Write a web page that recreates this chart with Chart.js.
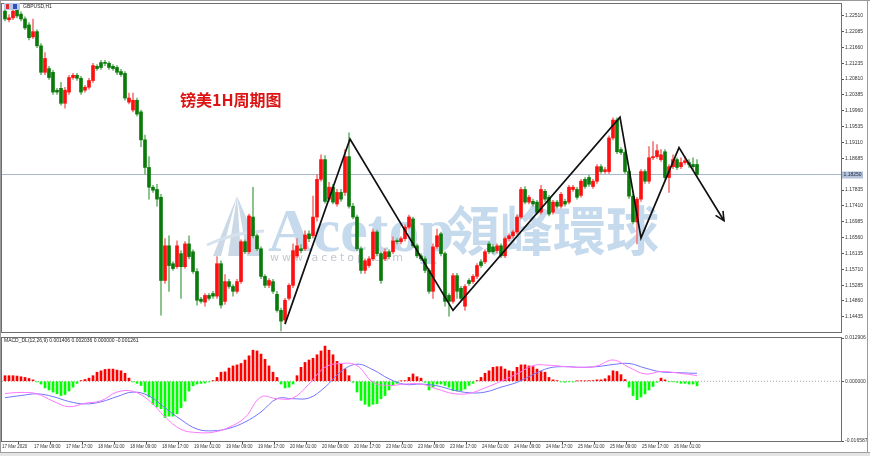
<!doctype html>
<html lang="zh-CN">
<head>
<meta charset="UTF-8" />
<title>GBPUSD,H1</title>
<script src="https://cdn.jsdelivr.net/npm/chart.js@4.4.1/dist/chart.umd.min.js"></script>
<style>
  body { margin: 0; background: #fff; }
  #tela { position: relative; width: 870px; height: 456px; overflow: hidden; background: #fff; }
  canvas { position: absolute; left: 0; }
  #grafPreco { top: 0; }
  #grafMacd { top: 334px; }
  .abas { position: absolute; left: 0; top: 452px; width: 870px; height: 4px; background: #e4e4e4; border-top: 1px solid #a0a0a0; }
</style>
</head>
<body>
<div id="tela">
  <canvas id="grafPreco" width="870" height="336"></canvas>
  <canvas id="grafMacd" width="870" height="118"></canvas>
  <div class="abas"></div>
</div>
<script>
  // Velas GBPUSD H1
  var abertura = [
    1.2263,1.2240,1.2245,1.2269,1.2255,1.2242,1.2226,1.2194,1.2208,1.2170,
    1.2099,1.2109,1.2099,1.2051,1.2056,1.2016,1.2046,1.2085,1.2091,1.2083,
    1.2051,1.2059,1.2077,1.2115,1.2125,1.2125,1.2123,1.2115,1.2112,1.2101,
    1.2096,1.2019,1.1998,1.2024,1.1993,1.1918,1.1844,1.1791,1.1785,1.1764,
    1.1541,1.1634,1.1586,1.1578,1.1613,1.1578,1.1639,1.1618,1.1565,1.1491,
    1.1483,1.1501,1.1506,1.1499,1.1586,1.1485,1.1538,1.1525,1.1512,1.1538,
    1.1645,1.1618,1.1711,1.1661,1.1626,1.1552,1.1528,1.1538,1.1504,1.1461,
    1.1435,1.1493,1.1528,1.1607,1.1626,1.1626,1.1666,1.1661,1.1711,1.1812,
    1.1865,1.1759,1.1791,1.1746,1.1777,1.1777,1.1873,1.1740,1.1711,1.1626,
    1.1568,1.1581,1.1599,1.1671,1.1613,1.1599,1.1618,1.1618,1.1647,1.1645,
    1.1653,1.1684,1.1706,1.1634,1.1607,1.1599,1.1568,1.1512,1.1631,1.1666,
    1.1613,1.1501,1.1485,1.1554,1.1520,1.1472,1.1541,1.1538,1.1552,1.1591,
    1.1591,1.1639,1.1631,1.1621,1.1634,1.1607,1.1653,1.1661,1.1671,1.1711,
    1.1785,1.1751,1.1753,1.1751,1.1724,1.1780,1.1764,1.1724,1.1751,1.1740,
    1.1753,1.1751,1.1785,1.1785,1.1769,1.1812,1.1817,1.1793,1.1807,1.1846,
    1.1833,1.1833,1.1923,1.1971,1.1892,1.1884,1.1833,1.1767,1.1698,1.1759,
    1.1833,1.1807,1.1870,1.1873,1.1865,1.1886,1.1817,1.1846,1.1865,1.1846,
    1.1857,1.1857,1.1852,1.1852
  ];
  var maxima = [
    1.2271,1.2253,1.2271,1.2277,1.2261,1.2248,1.2232,1.2242,1.2213,1.2176,
    1.2152,1.2115,1.2104,1.2056,1.2072,1.2059,1.2091,1.2096,1.2096,1.2088,
    1.2064,1.2083,1.2123,1.2120,1.2131,1.2131,1.2128,1.2120,1.2117,1.2107,
    1.2101,1.2043,1.2043,1.2030,1.1998,1.1931,1.1873,1.1796,1.1799,1.1772,
    1.1653,1.1661,1.1591,1.1647,1.1621,1.1645,1.1661,1.1623,1.1573,1.1496,
    1.1506,1.1506,1.1512,1.1605,1.1594,1.1557,1.1544,1.1530,1.1544,1.1650,
    1.1650,1.1719,1.1791,1.1666,1.1631,1.1557,1.1546,1.1544,1.1512,1.1467,
    1.1493,1.1533,1.1639,1.1653,1.1637,1.1674,1.1674,1.1767,1.1825,1.1878,
    1.1876,1.1804,1.1799,1.1785,1.1785,1.1892,1.1937,1.1748,1.1716,1.1631,
    1.1599,1.1605,1.1679,1.1676,1.1618,1.1626,1.1623,1.1658,1.1653,1.1658,
    1.1690,1.1716,1.1711,1.1639,1.1613,1.1605,1.1573,1.1639,1.1679,1.1671,
    1.1618,1.1506,1.1560,1.1560,1.1525,1.1530,1.1546,1.1557,1.1586,1.1597,
    1.1623,1.1645,1.1637,1.1639,1.1639,1.1658,1.1666,1.1676,1.1716,1.1791,
    1.1793,1.1769,1.1759,1.1756,1.1796,1.1785,1.1769,1.1756,1.1756,1.1777,
    1.1759,1.1796,1.1796,1.1791,1.1812,1.1817,1.1823,1.1812,1.1852,1.1852,
    1.1844,1.1929,1.1977,1.1977,1.1897,1.1889,1.1838,1.1772,1.1764,1.1838,
    1.1838,1.1900,1.1913,1.1905,1.1892,1.1892,1.1852,1.1878,1.1870,1.1870,
    1.1873,1.1865,1.1870,1.1865
  ];
  var minima = [
    1.2237,1.2234,1.2240,1.2245,1.2237,1.2213,1.2186,1.2189,1.2165,1.2093,
    1.2093,1.2080,1.2040,1.2040,1.2011,1.2003,1.2040,1.2080,1.2077,1.2040,
    1.2046,1.2054,1.2072,1.2104,1.2107,1.2117,1.2107,1.2104,1.2093,1.2088,
    1.2024,1.2014,1.1993,1.1982,1.1900,1.1825,1.1759,1.1777,1.1740,1.1448,
    1.1533,1.1512,1.1568,1.1573,1.1493,1.1573,1.1599,1.1560,1.1475,1.1480,
    1.1472,1.1488,1.1493,1.1493,1.1467,1.1477,1.1520,1.1499,1.1506,1.1533,
    1.1613,1.1613,1.1655,1.1621,1.1546,1.1522,1.1522,1.1506,1.1456,1.1406,
    1.1429,1.1488,1.1522,1.1602,1.1615,1.1621,1.1645,1.1655,1.1700,1.1807,
    1.1748,1.1753,1.1746,1.1740,1.1753,1.1769,1.1735,1.1706,1.1621,1.1560,
    1.1560,1.1576,1.1594,1.1607,1.1533,1.1594,1.1599,1.1613,1.1639,1.1639,
    1.1647,1.1679,1.1629,1.1602,1.1594,1.1562,1.1506,1.1493,1.1626,1.1607,
    1.1472,1.1445,1.1480,1.1493,1.1488,1.1461,1.1528,1.1533,1.1546,1.1576,
    1.1586,1.1613,1.1613,1.1615,1.1602,1.1602,1.1647,1.1655,1.1666,1.1706,
    1.1746,1.1746,1.1740,1.1719,1.1719,1.1753,1.1714,1.1719,1.1735,1.1735,
    1.1740,1.1746,1.1780,1.1759,1.1764,1.1788,1.1793,1.1788,1.1801,1.1828,
    1.1828,1.1828,1.1918,1.1881,1.1878,1.1828,1.1761,1.1692,1.1639,1.1753,
    1.1801,1.1801,1.1865,1.1868,1.1860,1.1812,1.1777,1.1841,1.1838,1.1841,
    1.1852,1.1844,1.1838,1.1820
  ];
  var fechamento = [
    1.2242,1.2245,1.2263,1.2250,1.2242,1.2218,1.2192,1.2208,1.2170,1.2099,
    1.2136,1.2085,1.2046,1.2046,1.2016,1.2051,1.2085,1.2091,1.2083,1.2046,
    1.2059,1.2077,1.2117,1.2109,1.2112,1.2123,1.2112,1.2109,1.2099,1.2093,
    1.2030,1.2030,1.2024,1.1987,1.1918,1.1844,1.1791,1.1783,1.1759,1.1541,
    1.1634,1.1581,1.1573,1.1634,1.1578,1.1639,1.1605,1.1565,1.1488,1.1485,
    1.1501,1.1493,1.1499,1.1586,1.1475,1.1538,1.1525,1.1512,1.1538,1.1645,
    1.1618,1.1714,1.1661,1.1626,1.1552,1.1528,1.1541,1.1512,1.1461,1.1432,
    1.1488,1.1528,1.1621,1.1634,1.1621,1.1663,1.1653,1.1711,1.1812,1.1865,
    1.1753,1.1791,1.1751,1.1777,1.1759,1.1873,1.1740,1.1711,1.1626,1.1568,
    1.1594,1.1599,1.1671,1.1613,1.1541,1.1618,1.1605,1.1647,1.1645,1.1653,
    1.1684,1.1711,1.1634,1.1607,1.1599,1.1568,1.1512,1.1631,1.1661,1.1613,
    1.1485,1.1485,1.1554,1.1512,1.1493,1.1525,1.1533,1.1552,1.1581,1.1581,
    1.1618,1.1618,1.1618,1.1634,1.1607,1.1653,1.1661,1.1671,1.1711,1.1785,
    1.1751,1.1764,1.1746,1.1724,1.1785,1.1759,1.1719,1.1751,1.1740,1.1772,
    1.1746,1.1791,1.1791,1.1764,1.1807,1.1793,1.1799,1.1807,1.1846,1.1833,
    1.1838,1.1923,1.1971,1.1886,1.1884,1.1833,1.1767,1.1698,1.1759,1.1833,
    1.1807,1.1870,1.1873,1.1889,1.1878,1.1817,1.1846,1.1865,1.1844,1.1857,
    1.1862,1.1852,1.1846,1.1825
  ];

  // MACD_DL(12,26,9): histograma por barra
  var histograma = [
    0.0016,0.0016,0.0016,0.0015,0.0013,0.0011,0.0008,0.0004,-0.0002,-0.0008,
    -0.0019,-0.0025,-0.0031,-0.0036,-0.0041,-0.0038,-0.0028,-0.0017,-0.0006,0.0002,
    0.0005,0.0009,0.0016,0.0026,0.0030,0.0034,0.0035,0.0035,0.0032,0.0030,
    0.0023,0.0009,-0.0002,-0.0006,-0.0012,-0.0031,-0.0045,-0.0066,-0.0074,-0.0079,
    -0.0104,-0.0100,-0.0100,-0.0093,-0.0076,-0.0057,-0.0028,-0.0013,-0.0008,-0.0006,
    -0.0005,-0.0002,0.0002,0.0011,0.0026,0.0027,0.0038,0.0044,0.0047,0.0051,
    0.0061,0.0073,0.0089,0.0087,0.0078,0.0063,0.0044,0.0026,0.0011,-0.0008,
    -0.0019,-0.0017,-0.0008,0.0016,0.0040,0.0054,0.0061,0.0066,0.0076,0.0087,
    0.0101,0.0089,0.0076,0.0057,0.0049,0.0035,0.0016,-0.0003,-0.0031,-0.0055,
    -0.0066,-0.0072,-0.0066,-0.0064,-0.0050,-0.0041,-0.0025,-0.0012,-0.0006,0.0001,
    0.0002,0.0011,0.0021,0.0013,0.0009,-0.0003,-0.0025,-0.0017,-0.0008,-0.0008,
    -0.0012,-0.0017,-0.0027,-0.0028,-0.0027,-0.0022,-0.0012,-0.0006,0.0002,0.0011,
    0.0023,0.0030,0.0040,0.0042,0.0042,0.0035,0.0030,0.0028,0.0040,0.0047,
    0.0047,0.0044,0.0042,0.0035,0.0028,0.0026,0.0011,0.0004,0.0002,-0.0002,
    -0.0003,-0.0001,-0.0002,0.0001,0.0001,0.0001,0.0002,0.0002,0.0004,0.0004,
    0.0007,0.0016,0.0030,0.0028,0.0019,0.0005,-0.0017,-0.0041,-0.0053,-0.0045,
    -0.0036,-0.0025,-0.0015,-0.0003,0.0009,0.0004,-0.0001,-0.0001,-0.0003,-0.0006,
    -0.0006,-0.0008,-0.0008,-0.0013
  ];
  // linhas do MACD lidas a cada 4 barras
  var barrasLinha = [0,4,8,12,16,20,24,28,32,36,40,44,48,52,56,60,64,68,72,76,80,84,88,92,96,100,
    104,108,112,116,120,124,128,132,136,140,144,148,152,156,160,164,168,172,173];
  var linhaDif = [-0.0035,-0.0032,-0.0036,-0.0057,-0.0073,-0.0063,-0.0056,-0.0031,-0.0029,-0.0055,
    -0.0102,-0.0138,-0.0147,-0.0146,-0.0132,-0.0104,-0.0045,-0.0050,-0.0048,-0.0008,
    0.0040,0.0051,0.0045,-0.0003,-0.0012,-0.0008,-0.0008,-0.0022,-0.0035,-0.0035,
    -0.0019,0.0000,0.0021,0.0045,0.0046,0.0042,0.0040,0.0044,0.0061,0.0040,
    0.0021,0.0028,0.0024,0.0018,0.0016];
  var linhaDea = [-0.0047,-0.0041,-0.0036,-0.0044,-0.0058,-0.0065,-0.0059,-0.0044,-0.0031,-0.0042,
    -0.0076,-0.0110,-0.0137,-0.0142,-0.0135,-0.0117,-0.0088,-0.0050,-0.0050,-0.0048,
    -0.0017,0.0028,0.0049,0.0033,0.0007,-0.0009,-0.0008,-0.0013,-0.0025,-0.0033,
    -0.0031,-0.0017,-0.0003,0.0019,0.0038,0.0042,0.0040,0.0042,0.0048,0.0051,
    0.0038,0.0027,0.0025,0.0023,0.0023];

  // linha desenhada à mão (barra, preço)
  var zigBarra = [70, 86.25, 112, 153.75, 159, 168.5, 179.75];
  var zigPreco = [1.1424, 1.1920, 1.1461, 1.1979, 1.1655, 1.1897, 1.1701];

  var rotulosTempo = ['17 Mar 2020','17 Mar 09:00','17 Mar 17:00','18 Mar 01:00','18 Mar 09:00','18 Mar 17:00',
    '19 Mar 01:00','19 Mar 09:00','19 Mar 17:00','20 Mar 01:00','20 Mar 09:00','20 Mar 17:00',
    '23 Mar 01:00','23 Mar 09:00','23 Mar 17:00','24 Mar 01:00','24 Mar 09:00','24 Mar 17:00',
    '25 Mar 01:00','25 Mar 09:00','25 Mar 17:00','26 Mar 01:00'];
  var rotulosPreco = [1.22510,1.22085,1.21660,1.21235,1.20810,1.20385,1.19960,1.19535,1.19110,1.18685,
    1.18260,1.17835,1.17410,1.16985,1.16560,1.16135,1.15710,1.15285,1.14860,1.14435];
  var rotulosMacd = ['-0.016587', '0.000000', '0.012906'];

  var precoMin = 1.14029, precoMax = 1.22821;
  var macdMin = -0.01713, macdMax = 0.01241;
  var xMin = -0.75, xMax = 209;

  Chart.defaults.font.family = '"Liberation Sans", Arial, sans-serif';
  Chart.defaults.animation = false;

  var indices = abertura.map(function (v, i) { return i; });
  var sobe = indices.map(function (i) { return fechamento[i] >= abertura[i]; });
  var ultimo = fechamento[fechamento.length - 1];

  // moldura, marca d'água e textos
  var enfeitesPreco = {
    id: 'enfeitesPreco',
    beforeDatasetsDraw: function (chart) {
      var ctx = chart.ctx;
      ctx.save();
      // logo
      ctx.fillStyle = '#cbd8e6';
      ctx.beginPath();
      ctx.moveTo(237, 196); ctx.lineTo(213, 256); ctx.lineTo(221, 256); ctx.closePath();
      ctx.moveTo(237, 196); ctx.lineTo(228, 256); ctx.lineTo(241, 256); ctx.closePath();
      ctx.moveTo(237, 196); ctx.lineTo(247, 256); ctx.lineTo(263, 256); ctx.closePath();
      ctx.fill();
      ctx.strokeStyle = '#d6e2ee';
      ctx.lineWidth = 3;
      ctx.beginPath();
      ctx.moveTo(207, 245); ctx.quadraticCurveTo(235, 232, 264, 231);
      ctx.stroke();
      ctx.fillStyle = '#c6daed';
      ctx.textBaseline = 'alphabetic';
      ctx.font = 'bold 62px "Liberation Serif", serif';
      ctx.fillText('Acetop', 268, 251);
      ctx.font = 'bold 53px "Noto Sans CJK TC"';
      ctx.fillText('領峰環球', 447, 251);
      ctx.fillStyle = '#c4c8cf';
      ctx.font = '11px "DejaVu Sans"';
      ctx.letterSpacing = '3px';
      ctx.fillText('www.acetop.com', 270, 261);
      ctx.restore();
    },
    afterDatasetsDraw: function (chart) {
      var ctx = chart.ctx;
      // ponta da seta
      var pts = chart.getDatasetMeta(3).data;
      var a = pts[pts.length - 2], b = pts[pts.length - 1];
      var ang = Math.atan2(b.y - a.y, b.x - a.x);
      ctx.save();
      ctx.strokeStyle = '#111';
      ctx.lineWidth = 1.6;
      ctx.beginPath();
      ctx.moveTo(b.x - 10 * Math.cos(ang - 0.45), b.y - 10 * Math.sin(ang - 0.45));
      ctx.lineTo(b.x, b.y);
      ctx.lineTo(b.x - 10 * Math.cos(ang + 0.45), b.y - 10 * Math.sin(ang + 0.45));
      ctx.stroke();
      ctx.restore();
    },
    afterDraw: function (chart) {
      var ctx = chart.ctx, area = chart.chartArea;
      ctx.save();
      ctx.strokeStyle = '#6e6e6e';
      ctx.lineWidth = 1;
      ctx.strokeRect(area.left - 0.5, area.top - 0.5, area.right - area.left + 1, area.bottom - area.top + 1);
      ctx.strokeStyle = '#9a9a9a';
      ctx.beginPath();
      ctx.moveTo(0, 0.5); ctx.lineTo(870, 0.5);
      ctx.moveTo(0.5, 0); ctx.lineTo(0.5, 336);
      ctx.moveTo(867.5, 0); ctx.lineTo(867.5, 336);
      ctx.stroke();
      // ícone e título
      ctx.fillStyle = '#b9c9e6';
      ctx.fillRect(4, 3, 16, 7);
      ctx.fillStyle = '#e03030';
      ctx.fillRect(6, 4, 3, 5);
      ctx.fillStyle = '#3050c0';
      ctx.fillRect(13, 4, 4, 5);
      ctx.fillStyle = '#222';
      ctx.font = '5px "Liberation Sans"';
      ctx.textBaseline = 'middle';
      ctx.fillText('GBPUSD,H1', 23, 7);
      // rótulo do preço atual
      var y = chart.scales.y.getPixelForValue(ultimo);
      ctx.fillStyle = '#b3c2d8';
      ctx.fillRect(842, Math.round(y) - 3.5, 21, 7);
      ctx.fillStyle = '#1e2a44';
      ctx.fillText(ultimo.toFixed(5), 843.5, Math.round(y));
      // título em chinês
      ctx.fillStyle = '#dc1414';
      ctx.font = 'bold 16px "Noto Sans CJK SC"';
      ctx.fillText('镑美1H周期图', 180, 100);
      ctx.restore();
    }
  };

  var grafPreco = new Chart(document.getElementById('grafPreco'), {
    type: 'bar',
    data: {
      datasets: [
        {
          label: 'pavio',
          data: indices.map(function (i) { return { x: i, y: [minima[i], maxima[i]] }; }),
          backgroundColor: indices.map(function (i) { return sobe[i] ? '#f27a7a' : '#74b874'; }),
          barThickness: 1,
          grouped: false,
          order: 3
        },
        {
          label: 'corpo',
          data: indices.map(function (i) { return { x: i, y: [abertura[i], fechamento[i]] }; }),
          backgroundColor: indices.map(function (i) { return sobe[i] ? '#ff1010' : '#0b7a0b'; }),
          barThickness: 3,
          minBarLength: 1,
          grouped: false,
          order: 2
        },
        {
          type: 'line',
          label: 'preço atual',
          data: [{ x: xMin, y: ultimo }, { x: xMax, y: ultimo }],
          borderColor: '#a9b8cc',
          borderWidth: 1,
          pointRadius: 0,
          order: 4
        },
        {
          type: 'line',
          label: 'tendência',
          data: zigBarra.map(function (b, k) { return { x: b, y: zigPreco[k] }; }),
          borderColor: '#111',
          borderWidth: 1.7,
          pointRadius: 0,
          tension: 0,
          order: 0
        }
      ]
    },
    options: {
      responsive: false,
      devicePixelRatio: 1,
      layout: { padding: { left: 2, top: 3, right: 0, bottom: 2 } },
      plugins: { legend: { display: false }, tooltip: { enabled: false } },
      scales: {
        x: { type: 'linear', min: xMin, max: xMax, offset: false, display: false },
        y: {
          position: 'right',
          min: precoMin,
          max: precoMax,
          afterBuildTicks: function (s) { s.ticks = rotulosPreco.map(function (v) { return { value: v }; }); },
          afterFit: function (s) { s.width = 29; },
          ticks: {
            font: { size: 5 },
            color: '#333',
            padding: 1,
            autoSkip: false,
            callback: function (v) { return Number(v).toFixed(5); }
          },
          grid: { drawOnChartArea: false, drawTicks: true, tickLength: 3, color: '#555' },
          border: { color: '#6e6e6e' }
        }
      }
    },
    plugins: [enfeitesPreco]
  });

  var enfeitesMacd = {
    id: 'enfeitesMacd',
    afterDraw: function (chart) {
      var ctx = chart.ctx, area = chart.chartArea;
      ctx.save();
      ctx.strokeStyle = '#6e6e6e';
      ctx.lineWidth = 1;
      ctx.strokeRect(area.left - 0.5, area.top - 0.5, area.right - area.left + 1, area.bottom - area.top + 1);
      ctx.strokeStyle = '#9a9a9a';
      ctx.beginPath();
      ctx.moveTo(0.5, 0); ctx.lineTo(0.5, 118);
      ctx.moveTo(867.5, 0); ctx.lineTo(867.5, 118);
      ctx.stroke();
      ctx.fillStyle = '#222';
      ctx.font = '5px "Liberation Sans"';
      ctx.textBaseline = 'middle';
      ctx.fillText('MACD_DL(12,26,9) 0.001406 0.002036 0.000000 -0.001261', 4, 7);
      ctx.restore();
    }
  };

  var grafMacd = new Chart(document.getElementById('grafMacd'), {
    type: 'bar',
    data: {
      datasets: [
        {
          label: 'histograma',
          data: indices.map(function (i) { return { x: i, y: histograma[i] }; }),
          backgroundColor: histograma.map(function (v) { return v >= 0 ? '#ff0000' : '#00ff00'; }),
          barThickness: 2,
          grouped: false,
          order: 3
        },
        {
          type: 'line',
          label: 'zero',
          data: [{ x: xMin, y: 0 }, { x: xMax, y: 0 }],
          borderColor: '#a0a0a0',
          borderWidth: 1,
          borderDash: [1, 2],
          pointRadius: 0,
          order: 4
        },
        {
          type: 'line',
          label: 'DEA',
          data: barrasLinha.map(function (b, k) { return { x: b, y: linhaDea[k] }; }),
          borderColor: '#7474ff',
          borderWidth: 1,
          pointRadius: 0,
          tension: 0.4,
          order: 1
        },
        {
          type: 'line',
          label: 'DIF',
          data: barrasLinha.map(function (b, k) { return { x: b, y: linhaDif[k] }; }),
          borderColor: '#ff78ff',
          borderWidth: 1,
          pointRadius: 0,
          tension: 0.4,
          order: 0
        }
      ]
    },
    options: {
      responsive: false,
      devicePixelRatio: 1,
      layout: { padding: { left: 2, top: 3, right: 0, bottom: 0 } },
      plugins: { legend: { display: false }, tooltip: { enabled: false } },
      scales: {
        x: {
          type: 'linear',
          min: xMin,
          max: xMax,
          offset: false,
          afterBuildTicks: function (s) { s.ticks = rotulosTempo.map(function (t, k) { return { value: k * 8 - 0.75 }; }); },
          afterFit: function (s) { s.height = 11; },
          ticks: {
            font: { size: 4.5 },
            color: '#333',
            align: 'start',
            padding: 0,
            autoSkip: false,
            maxRotation: 0,
            minRotation: 0,
            callback: function (v, idx) { return rotulosTempo[idx]; }
          },
          grid: { drawOnChartArea: false, drawTicks: true, tickLength: 3, color: '#555' },
          border: { color: '#6e6e6e' }
        },
        y: {
          position: 'right',
          min: macdMin,
          max: macdMax,
          afterBuildTicks: function (s) { s.ticks = [{ value: macdMin }, { value: 0 }, { value: macdMax }]; },
          afterFit: function (s) { s.width = 29; },
          ticks: {
            font: { size: 5 },
            color: '#333',
            padding: 1,
            autoSkip: false,
            callback: function (v, idx) { return rotulosMacd[idx]; }
          },
          grid: { drawOnChartArea: false, drawTicks: true, tickLength: 3, color: '#555' },
          border: { color: '#6e6e6e' }
        }
      }
    },
    plugins: [enfeitesMacd]
  });
</script>
</body>
</html>
